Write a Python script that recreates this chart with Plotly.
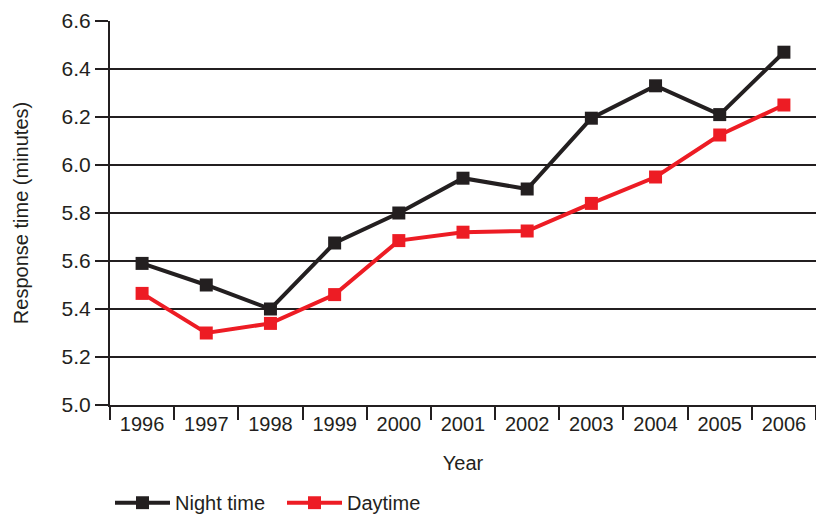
import plotly.graph_objects as go

years = ["1996", "1997", "1998", "1999", "2000", "2001", "2002", "2003", "2004", "2005", "2006"]
night_time = [5.59, 5.50, 5.40, 5.675, 5.80, 5.945, 5.90, 6.195, 6.33, 6.21, 6.47]
daytime = [5.465, 5.30, 5.34, 5.46, 5.685, 5.72, 5.725, 5.84, 5.95, 6.125, 6.25]
y_ticks = [5.0, 5.2, 5.4, 5.6, 5.8, 6.0, 6.2, 6.4, 6.6]

INK = "#231f20"
RED = "#ed1c24"
FONT = "Liberation Sans, Arial, sans-serif"

fig = go.Figure()
fig.add_trace(go.Scatter(
    x=years, y=night_time, name="Night time", mode="lines+markers",
    line=dict(color=INK, width=4), marker=dict(symbol="square", size=13, color=INK),
))
fig.add_trace(go.Scatter(
    x=years, y=daytime, name="Daytime", mode="lines+markers",
    line=dict(color=RED, width=4), marker=dict(symbol="square", size=13, color=RED),
))

fig.update_layout(
    width=816, height=515,
    margin=dict(l=110, r=0, t=21, b=110),
    paper_bgcolor="white", plot_bgcolor="white",
    font=dict(family=FONT, size=20, color=INK),
    showlegend=True,
    legend=dict(orientation="h", x=0.0, xanchor="left",
                yref="container", y=0.024, yanchor="middle",
                font=dict(size=20, color=INK), itemwidth=55, traceorder="normal",
                entrywidth=102, bgcolor="rgba(0,0,0,0)"),
)
fig.update_xaxes(
    type="category", tickson="boundaries", ticks="outside", ticklen=13, tickwidth=2,
    tickcolor=INK, showline=True, linecolor=INK, linewidth=2, showgrid=False,
    title=dict(text="Year", font=dict(size=20), standoff=22),
    tickfont=dict(size=20), range=[-0.5, 10.5], automargin=False,
)
fig.update_yaxes(
    range=[5.0, 6.6], tickvals=y_ticks, ticktext=[f"{v:.1f}" for v in y_ticks],
    ticks="outside", ticklen=13, tickwidth=2, tickcolor=INK,
    showline=True, linecolor=INK, linewidth=2,
    showgrid=True, gridcolor=INK, gridwidth=2, zeroline=False,
    title=dict(text="Response time (minutes)", font=dict(size=20), standoff=28),
    tickfont=dict(size=21), automargin=False,
)

fig.write_html("out.html", config={"displayModeBar": False},
               post_script="document.body.style.margin='0';document.body.style.overflow='hidden';")
